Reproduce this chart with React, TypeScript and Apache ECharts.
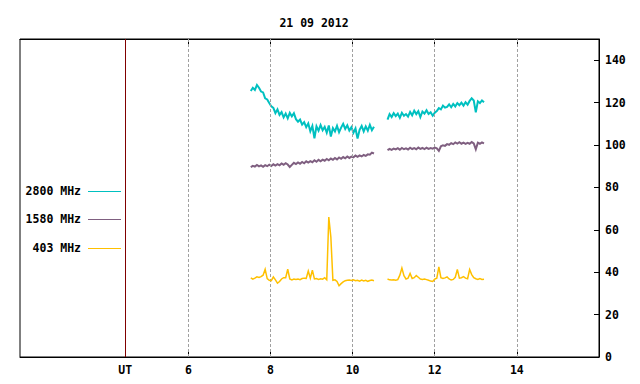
import React, { useEffect, useRef } from "react";
import * as echarts from "echarts";

// ---- data (UT hours, solar radio flux) ----
const TITLE = "21 09 2012";
const FREQS = ["2800 MHz", "1580 MHz", "403 MHz"];
const COLORS = ["#00c0c0", "#7f5f80", "#ffc000"];
const WIDTHS = [2, 2, 1.5];

const SEG1_START = 7.52;
const SEG2_START = 10.85;
const STEP = 0.05;

const XTICKS = [6, 8, 10, 12, 14];
const UT_MARK = 4.46;
const YTICKS = [0, 20, 40, 60, 80, 100, 120, 140];

const f2800a = [
  125.5, 127.0, 126.0, 128.3, 127.0, 125.2, 124.8, 122.0, 121.5, 119.8,
  118.2, 117.5, 115.0, 116.8, 114.2, 115.5, 113.0, 114.8, 112.6, 115.2,
  113.5, 115.0, 112.2, 111.0, 112.0, 109.6, 110.8, 108.4, 110.2, 106.5,
  109.0, 103.2, 108.8, 106.8, 109.4, 107.0, 108.6, 105.8, 109.2, 104.0,
  108.0, 106.4, 109.0, 106.0, 108.2, 110.0, 107.6, 109.3, 106.8, 108.4,
  105.8, 107.8, 103.0, 107.2, 109.0, 106.4, 108.8, 106.8, 109.5, 107.0,
  108.6,
];
const f2800b = [
  112.0, 114.6, 113.2, 115.0, 113.6, 114.8, 112.8, 115.2, 113.8, 114.6,
  113.4, 115.6, 114.0, 116.2, 114.6, 116.0, 113.2, 115.8, 114.8, 116.4,
  114.6, 115.4, 113.8, 115.2, 116.0, 117.4, 116.8, 118.6, 117.6, 118.0,
  119.2, 117.8, 119.4, 118.2, 119.8, 118.8, 120.0, 118.6, 120.2, 119.0,
  120.8, 122.0, 121.0, 115.4, 120.6, 119.8, 121.0, 120.2,
];
const f1580a = [
  89.6, 90.2, 89.8, 90.6, 89.9, 90.4, 89.7, 90.5, 90.0, 90.7,
  90.1, 90.9, 90.3, 91.0, 90.4, 91.3, 90.7, 91.4, 90.8, 89.6,
  90.6, 91.6, 91.0, 91.8, 91.2, 92.0, 91.4, 92.3, 91.7, 92.4,
  91.9, 92.8, 92.1, 93.0, 92.3, 93.1, 92.6, 93.4, 92.8, 93.6,
  93.0, 93.9, 93.2, 94.1, 93.5, 94.3, 93.7, 94.6, 93.9, 94.5,
  94.2, 95.0, 94.4, 95.1, 94.6, 95.3, 94.9, 95.6, 95.4, 96.4,
  96.0,
];
const f1580b = [
  97.6, 98.2, 97.7, 98.3, 97.9, 98.5, 97.8, 98.6, 98.0, 98.4,
  97.9, 98.7, 98.1, 98.5, 98.0, 98.8, 98.2, 98.6, 98.1, 98.7,
  98.2, 98.6, 98.3, 98.8, 98.4, 97.2, 99.4, 99.9, 99.6, 100.4,
  100.1, 100.9, 100.4, 101.2, 100.7, 101.3, 100.6, 101.1, 100.5, 101.0,
  100.6, 101.4, 100.8, 98.0, 101.1, 100.6, 101.2, 100.8,
];
const f403a = [
  37.3, 36.7, 37.2, 37.8, 37.5, 37.9, 38.6, 41.4, 37.0, 36.2,
  36.0, 37.8, 36.4, 34.8, 35.6, 36.8, 37.4, 37.4, 41.4, 36.8,
  36.4, 36.8, 36.6, 36.8, 36.5, 37.0, 37.2, 37.1, 40.6, 37.2,
  40.9, 36.8, 37.0, 36.6, 36.9, 36.7, 37.4, 36.4, 66.0, 56.6,
  36.2, 36.4, 35.6, 33.6, 34.6, 35.4, 36.0, 36.2, 36.3, 36.1,
  36.4, 36.0, 36.2, 35.8, 36.3, 35.9, 36.2, 35.7, 36.1, 36.3,
  36.0,
];
const f403b = [
  36.8, 36.4, 36.3, 36.4, 36.2, 36.5, 38.6, 42.0, 38.4, 36.8,
  37.2, 39.4, 37.0, 37.4, 38.4, 37.6, 36.8, 36.6, 36.8, 36.5,
  36.2, 35.8, 35.6, 36.7, 37.2, 42.5, 37.4, 37.0, 37.3, 37.8,
  36.8, 36.3, 36.6, 37.6, 41.3, 37.2, 37.4, 37.9, 37.2, 36.9,
  41.3, 38.9, 37.4, 36.9, 36.6, 37.0, 36.6, 36.7,
];

const SEGMENTS = [
  [f2800a, f2800b],
  [f1580a, f1580b],
  [f403a, f403b],
];

const FONT = "DejaVu Sans Mono";

function toPoints(start: number, vals: number[]) {
  return vals.map((v, i) => [Math.round((start + i * STEP) * 1000) / 1000, v]);
}

export default function App() {
  const ref = useRef<HTMLDivElement>(null);
  useEffect(() => {
    document.body.style.margin = "0";
    if (!ref.current) return;
    const chart = echarts.init(ref.current, undefined, { renderer: "svg" });

    const series: any[] = [];
    SEGMENTS.forEach((segs, k) => {
      segs.forEach((vals, j) => {
        series.push({
          type: "line",
          name: FREQS[k],
          data: toPoints(j === 0 ? SEG1_START : SEG2_START, vals),
          showSymbol: false,
          symbol: "none",
          lineStyle: { color: COLORS[k], width: WIDTHS[k], join: "miter" },
          itemStyle: { color: COLORS[k] },
          z: 3 + k,
          silent: true,
        });
      });
    });
    // reference lines (grid + UT marker)
    series.push({
      type: "line",
      data: [],
      silent: true,
      z: 1,
      markLine: {
        silent: true,
        symbol: ["none", "none"],
        label: { show: false },
        data: [
          ...XTICKS.map((x) => ({
            xAxis: x,
            lineStyle: { color: "#a0a0a0", type: [3, 2], width: 1 },
          })),
          { xAxis: UT_MARK, lineStyle: { color: "#800000", type: "solid", width: 1 } },
        ],
      },
    });

    const legendY = [191, 219, 248];
    const graphic: any[] = [];
    FREQS.forEach((f, i) => {
      graphic.push({
        type: "text",
        x: 81,
        y: legendY[i],
        style: {
          text: f,
          textAlign: "right",
          textVerticalAlign: "middle",
          font: `bold 11.5px "${FONT}"`,
          fill: "#000",
        },
      });
      graphic.push({
        type: "line",
        shape: { x1: 88, y1: legendY[i] + 0.5, x2: 121, y2: legendY[i] + 0.5 },
        style: { stroke: COLORS[i], lineWidth: 1 },
      });
    });

    const labelStyle = {
      fontFamily: FONT,
      fontWeight: "bold" as const,
      fontSize: 11.5,
      color: "#000",
    };

    chart.setOption({
      animation: false,
      title: {
        text: TITLE,
        left: 309,
        textAlign: "center",
        top: 12,
        textStyle: { ...labelStyle },
      },
      grid: {
        left: 20,
        right: 41,
        top: 39,
        bottom: 27,
        show: true,
        borderColor: "#000",
        borderWidth: 1,
        backgroundColor: "transparent",
      },
      xAxis: [
        {
          type: "value",
          min: 1.9,
          max: 16,
          position: "bottom",
          axisLine: { show: true, lineStyle: { color: "#000", width: 1 } },
          axisTick: {
            show: true,
            inside: true,
            length: 5,
            customValues: XTICKS,
            lineStyle: { color: "#000" },
          },
          axisLabel: {
            show: true,
            margin: 7,
            customValues: [UT_MARK, ...XTICKS],
            formatter: (v: number) => (Math.abs(v - UT_MARK) < 1e-6 ? "UT" : String(v)),
            ...labelStyle,
          },
          splitLine: { show: false },
        },
        {
          type: "value",
          min: 1.9,
          max: 16,
          position: "top",
          axisLine: { show: true, lineStyle: { color: "#000", width: 1 } },
          axisTick: {
            show: true,
            inside: true,
            length: 5,
            customValues: XTICKS,
            lineStyle: { color: "#000" },
          },
          axisLabel: { show: false },
          splitLine: { show: false },
        },
      ],
      yAxis: {
        type: "value",
        min: 0,
        max: 150,
        position: "right",
        axisLine: { show: true, lineStyle: { color: "#000", width: 1 } },
        axisTick: {
          show: true,
          inside: true,
          length: 5,
          customValues: YTICKS,
          lineStyle: { color: "#000" },
        },
        axisLabel: {
          show: true,
          margin: 6,
          customValues: YTICKS,
          ...labelStyle,
        },
        splitLine: { show: false },
      },
      graphic,
      series,
    });
    return () => chart.dispose();
  }, []);
  return <div ref={ref} style={{ width: 640, height: 384 }} />;
}
